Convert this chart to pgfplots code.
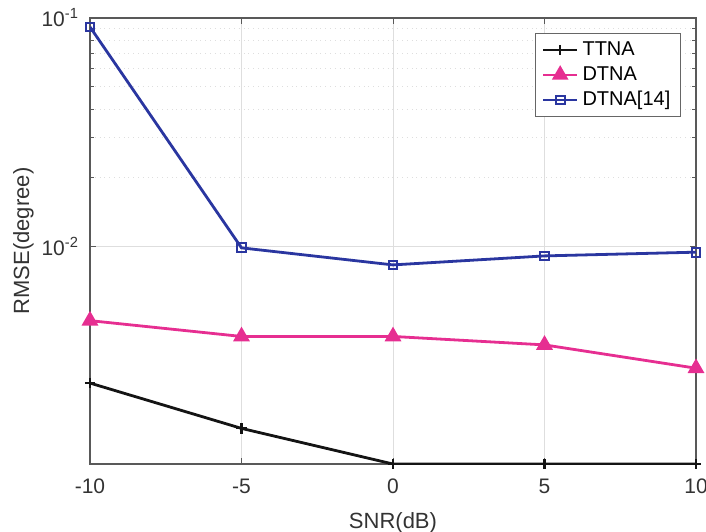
\documentclass[border=0pt]{standalone}
\usepackage{pgfplots}
\pgfplotsset{compat=1.18}
\usepackage{fontspec}
\setmainfont{Liberation Sans}

\definecolor{ttna}{RGB}{20,20,20}
\definecolor{dtna}{RGB}{230,46,145}
\definecolor{dtnaref}{RGB}{42,54,160}

\begin{document}
\begin{tikzpicture}
\useasboundingbox (0pt,0pt) rectangle (353pt,265.5pt);
\begin{semilogyaxis}[
  at={(45pt,33.5pt)}, anchor=south west,
  scale only axis,
  width=303pt, height=223pt,
  xmin=-10, xmax=10,
  ymin=1.125e-3, ymax=1e-1,
  xtick={-10,-5,0,5,10},
  xticklabels={-10,-5,0,5,10},
  ytick={1e-2,1e-1},
  yticklabels={10\textsuperscript{-2},10\textsuperscript{-1}},
  /pgf/number format/assume math mode=true,
  tick label style={font=\fontsize{10.5}{12}\selectfont, text=black!80},
  xticklabel style={yshift=-4pt},
  yticklabel style={xshift=-2pt},
  xlabel={SNR(dB)},
  ylabel={RMSE(degree)},
  label style={font=\fontsize{11}{13}\selectfont, text=black!80},
  xlabel style={yshift=-2.5pt},
  ylabel style={yshift=-3pt},
  axis line style={black!65, line width=0.6pt},
  tick style={black!65, line width=0.5pt},
  major tick length=3pt, minor tick length=1.8pt,
  grid=both,
  major grid style={black!13, line width=0.5pt},
  minor grid style={black!13, dotted, line width=0.5pt},
  legend style={at={(0.975,0.966)}, anchor=north east,
    draw=black!60, line width=0.5pt,
    font=\fontsize{10}{12}\selectfont,
    inner xsep=3pt, inner ysep=2pt, row sep=0pt},
  legend cell align=left,
  legend image post style={line width=1.3pt},
]
\addplot[ttna, line width=1.4pt, mark=+, mark size=2.6pt,
  mark options={line width=1.1pt}]
  coordinates {(-10,2.54e-3) (-5,1.61e-3) (0,1.125e-3) (5,1.125e-3) (10,1.125e-3)};
\addlegendentry{TTNA}
\addplot[dtna, line width=1.4pt, mark=triangle*, mark size=3.5pt]
  coordinates {(-10,4.76e-3) (-5,4.06e-3) (0,4.06e-3) (5,3.73e-3) (10,2.95e-3)};
\addlegendentry{DTNA}
\addplot[dtnaref, line width=1.4pt, mark=square, mark size=2.2pt,
  mark options={fill=white, line width=1pt}]
  coordinates {(-10,9.14e-2) (-5,9.9e-3) (0,8.34e-3) (5,9.13e-3) (10,9.48e-3)};
\addlegendentry{DTNA[14]}
\end{semilogyaxis}
\end{tikzpicture}
\end{document}
